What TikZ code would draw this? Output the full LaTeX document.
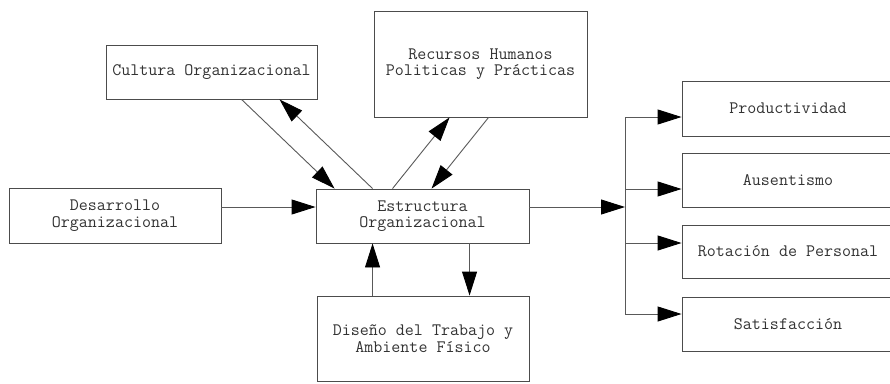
\documentclass[tikz,border=0pt]{standalone}
\usetikzlibrary{arrows.meta}
\begin{document}
\begin{tikzpicture}[x=1pt,y=-1pt,
  box/.style={draw=black!70, line width=0.9pt, rectangle, inner sep=0pt,
    align=center, text=black!80,
    font=\ttfamily\fontsize{17.5}{16.5}\selectfont},
  link/.style={draw=black!65, line width=0.9pt},
  arr/.style={link, -{Triangle[length=24pt,width=15pt,color=black]}}]
\useasboundingbox (0,0) rectangle (890,383);
\clip (0,0) rectangle (890,383);
\fill[white] (0,0) rectangle (890,383);

% boxes
\node[box, minimum width=211pt, minimum height=54pt] (cult) at (211.5,72) {Cultura Organizacional};
\node[box, minimum width=213pt, minimum height=106pt] (rec) at (480.5,64) {Recursos Humanos\\Politicas y Prácticas};
\node[box, minimum width=212pt, minimum height=55pt] (des) at (115,215.5) {Desarrollo\\Organizacional};
\node[box, minimum width=213pt, minimum height=54pt] (estr) at (422.5,216) {Estructura\\Organizacional};
\node[box, minimum width=212pt, minimum height=85pt] (dis) at (423,338.5) {Diseño del Trabajo y\\Ambiente Físico};
\node[box, minimum width=212pt, minimum height=55pt] (prod) at (788,108.5) {Productividad};
\node[box, minimum width=212pt, minimum height=54pt] (aus) at (788,180) {Ausentismo};
\node[box, minimum width=212pt, minimum height=53pt] (rot) at (788,251.5) {Rotación de Personal};
\node[box, minimum width=212pt, minimum height=54pt] (sat) at (788,324) {Satisfacción};

% culture and human resources exchanges
\draw[arr] ([xshift=136pt]cult.south west) -- ([xshift=19pt]estr.north west);
\draw[arr] ([xshift=57pt]estr.north west) -- ([xshift=174pt]cult.south west);
\draw[arr] ([xshift=77pt]estr.north west) -- ([xshift=76pt]rec.south west);
\draw[arr] ([xshift=115pt]rec.south west) -- ([xshift=116pt]estr.north west);

% development into structure
\draw[arr] ([yshift=8.5pt]des.east) -- ([yshift=9pt]estr.west);

% structure and job design
\draw[arr] ([xshift=153pt]dis.north west |- estr.south) -- ([xshift=153pt]dis.north west);
\draw[arr] ([xshift=56pt]dis.north west) -- ([xshift=56pt]dis.north west |- estr.south);

% outcomes
\coordinate (br) at (625,207);
\draw[arr] ([yshift=9pt]estr.east) -- (br);
\draw[link] (br) ++(0,-90) -- (625,314);
\draw[arr] (br) ++(0,-90) -- ([yshift=-8.5pt]prod.west);
\draw[arr] (br) ++(0,-18) -- ([yshift=-9pt]aus.west);
\draw[arr] (br) ++(0,36) -- ([yshift=8.5pt]rot.west);
\draw[arr] (br) ++(0,107) -- ([yshift=10pt]sat.west);
\end{tikzpicture}
\end{document}
